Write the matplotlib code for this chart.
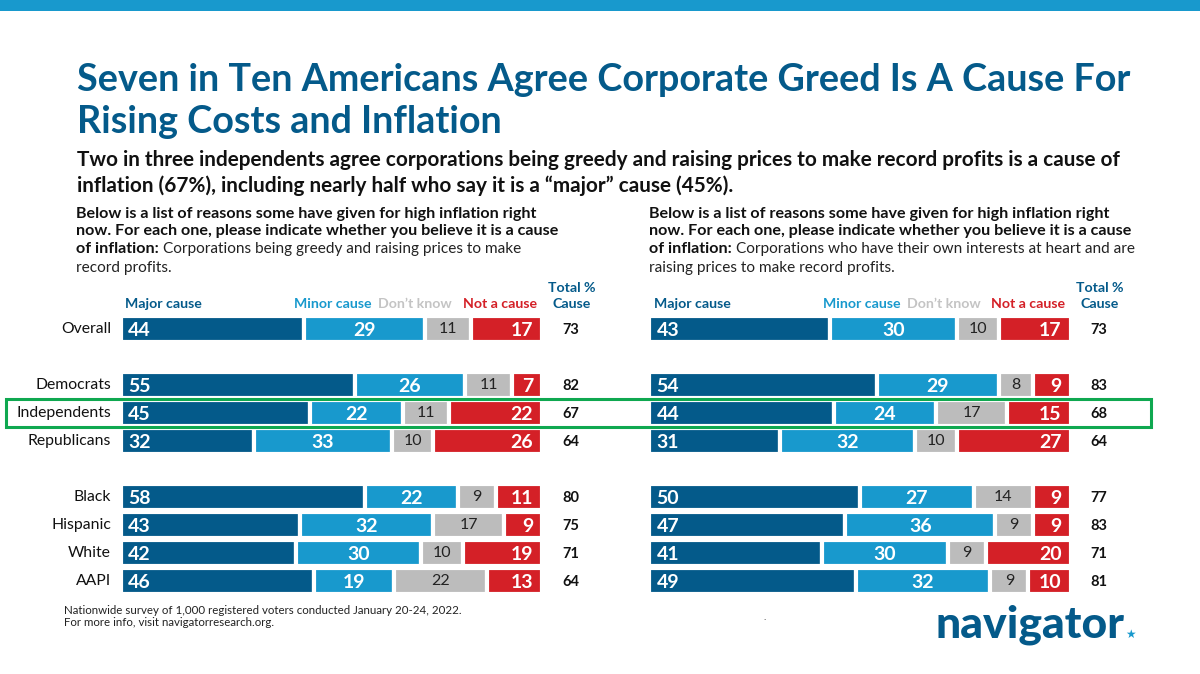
import matplotlib
matplotlib.use("Agg")
import matplotlib.pyplot as plt
from matplotlib.patches import Rectangle

plt.rcParams['font.family'] = ['Lato', 'DejaVu Sans']

groups = ["Overall", "Democrats", "Independents", "Republicans", "Black", "Hispanic", "White", "AAPI"]
series_names = ["Major cause", "Minor cause", "Don\u2019t know", "Not a cause"]

left_major = [44, 55, 45, 32, 58, 43, 42, 46]
left_minor = [29, 26, 22, 33, 22, 32, 30, 19]
left_dk = [11, 11, 11, 10, 9, 17, 10, 22]
left_not = [17, 7, 22, 26, 11, 9, 19, 13]
left_total = [73, 82, 67, 64, 80, 75, 71, 64]

right_major = [43, 54, 44, 31, 50, 47, 41, 49]
right_minor = [30, 29, 24, 32, 27, 36, 30, 32]
right_dk = [10, 8, 17, 10, 14, 9, 9, 9]
right_not = [17, 9, 15, 27, 9, 9, 20, 10]
right_total = [73, 83, 68, 64, 77, 83, 71, 81]

NAVY, BLUE, GREY, RED = "#045a8a", "#1899cd", "#bcbcbc", "#d42027"
colors = [NAVY, BLUE, GREY, RED]
text_cols = ["white", "white", "#222222", "white"]
head_cols = [NAVY, BLUE, "#c4c4c4", RED]
row_pos = [0, 2, 3, 4, 6, 7, 8, 9]

W, H = 1200, 674
fig = plt.figure(figsize=(12, 6.74), dpi=100, facecolor="white")
bg = fig.add_axes([0, 0, 1, 1])
bg.set_xlim(0, W); bg.set_ylim(H, 0); bg.axis("off")

bg.add_patch(Rectangle((0, 0), W, 11, color="#1899cd", lw=0))
bg.text(77, 80, "Seven in Ten Americans Agree Corporate Greed Is A Cause For", fontsize=27.2, weight="bold", color=NAVY, va="center")
bg.text(77, 122, "Rising Costs and Inflation", fontsize=27.2, weight="bold", color=NAVY, va="center")
bg.text(77, 160, "Two in three independents agree corporations being greedy and raising prices to make record profits is a cause of", fontsize=14.95, weight="bold", color="#111111", va="center")
bg.text(77, 186, "inflation (67%), including nearly half who say it is a \u201cmajor\u201d cause (45%).", fontsize=14.95, weight="bold", color="#111111", va="center")


def intro(x, l3, l4):
    bg.text(x, 214, "Below is a list of reasons some have given for high inflation right", fontsize=11.6, weight="bold", color="#111111", va="center")
    bg.text(x, 231, "now. For each one, please indicate whether you believe it is a cause", fontsize=11.6, weight="bold", color="#111111", va="center")
    t = bg.text(x, 249, "of inflation:", fontsize=11.6, weight="bold", color="#111111", va="center")
    fig.canvas.draw()
    bb = t.get_window_extent()
    bg.text(bb.x1 + 4, 249, l3, fontsize=11.1, color="#222222", va="center")
    bg.text(x, 268, l4, fontsize=11.1, color="#222222", va="center")


intro(76, "Corporations being greedy and raising prices to make", "record profits.")
intro(649, "Corporations who have their own interests at heart and are", "raising prices to make record profits.")


def panel(x0, x1, series, totals, show_labels, head_x, total_x):
    # axes spans the rows: 28 px per row, first row centre at y=329
    top, bot = 315, 595
    ax = fig.add_axes([x0 / W, 1 - bot / H, (x1 - x0) / W, (bot - top) / H])
    ax.set_xlim(0, 100); ax.set_ylim(9.5, -0.5); ax.axis("off")
    for i, y in enumerate(row_pos):
        vals = [s[i] for s in series]
        tot = sum(vals)
        left = 0
        for j, v in enumerate(vals):
            w = v / tot * 100
            ax.barh(y, w, left=left, height=0.93, color=colors[j], edgecolor="white", linewidth=3)
            if j == 0:
                ax.text(left + 1.8, y + 0.05, str(v), color="white", fontsize=14, va="center", ha="left", weight="bold")
            elif j == 3:
                ax.text(left + w - 2.1, y + 0.05, str(v), color="white", fontsize=14, va="center", ha="right", weight="bold")
            elif j == 1:
                ax.text(left + w / 2, y + 0.05, str(v), color="white", fontsize=14, va="center", ha="center", weight="bold")
            else:
                ax.text(left + w / 2, y + 0.0, str(v), color=text_cols[j], fontsize=11.5, va="center", ha="center")
            left += w
        bg.text(total_x, 329 + y * 28 + 1, str(totals[i]), fontsize=10.5, weight="bold", color="#111111", ha="center", va="center")
        if show_labels:
            bg.text(111, 329 + y * 28, groups[i], fontsize=11.3, color="#111111", ha="right", va="center")
    for name, hx, c, ha in zip(series_names, head_x, head_cols, ["left", "right", "right", "right"]):
        bg.text(hx, 304, name, fontsize=10.2, weight="bold", color=c, ha=ha, va="center")
    bg.text(total_x + 1, 288, "Total %", fontsize=10.2, weight="bold", color=NAVY, ha="center", va="center")
    bg.text(total_x + 1, 304, "Cause", fontsize=10.2, weight="bold", color=NAVY, ha="center", va="center")


panel(120.5, 542, [left_major, left_minor, left_dk, left_not], left_total, True, [125, 372, 452, 537], 571)
panel(649, 1070.5, [right_major, right_minor, right_dk, right_not], right_total, False, [654, 901, 981, 1065], 1099)

overlay = fig.add_axes([0, 0, 1, 1], facecolor="none")
overlay.set_xlim(0, W); overlay.set_ylim(H, 0); overlay.axis("off")
overlay.add_patch(Rectangle((6, 398.5), 1145, 28.5, fill=False, edgecolor="#0fa850", lw=2.2, zorder=10))

bg.text(64, 610, "Nationwide survey of 1,000 registered voters conducted January 20-24, 2022.", fontsize=8.3, color="#222222", va="center")
bg.text(64, 622, "For more info, visit navigatorresearch.org.", fontsize=8.3, color="#222222", va="center")
bg.text(765, 617, ".", fontsize=7, color="#222222", ha="center", va="center")

bg.text(936, 625, "navigator", fontsize=32, weight="black", color=NAVY, va="center")
bg.text(1130.5, 634, "\u2605", fontsize=8.5, color=BLUE, ha="center", va="center", family="DejaVu Sans")

fig.savefig("out.png", dpi=100, facecolor="white")
